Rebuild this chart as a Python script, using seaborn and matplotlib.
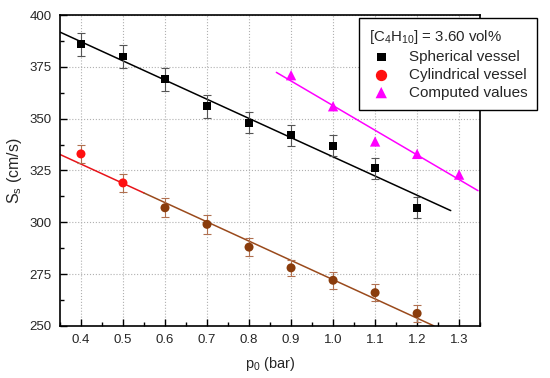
import numpy as np
import pandas as pd
import matplotlib
matplotlib.use("Agg")
import matplotlib.pyplot as plt
import seaborn as sns
from matplotlib.ticker import MultipleLocator

p0 = [0.4, 0.5, 0.6, 0.7, 0.8, 0.9, 1.0, 1.1, 1.2]
spherical = [386, 380, 369, 356, 348, 342, 337, 326, 307]
spherical_err = [5.5, 5.5, 5.5, 5.5, 5.0, 5.0, 5.0, 5.0, 5.0]
cylindrical = [333, 319, 307, 299, 288, 278, 272, 266, 256]
cylindrical_err = [4.5, 4.5, 4.5, 4.5, 4.5, 4.0, 4.0, 4.0, 4.0]
p0_comp = [0.9, 1.0, 1.1, 1.2, 1.3]
computed = [371, 356, 339, 333, 323]

sns.set_style("white")
plt.rcParams['font.family'] = ['Liberation Sans', 'DejaVu Sans']
plt.rcParams['mathtext.fontset'] = 'custom'
plt.rcParams['mathtext.rm'] = 'Liberation Sans'
plt.rcParams['mathtext.it'] = 'Liberation Sans'

df_s = pd.DataFrame({'p0': p0, 'S': spherical, 'err': spherical_err})
df_c = pd.DataFrame({'p0': p0, 'S': cylindrical, 'err': cylindrical_err})
df_m = pd.DataFrame({'p0': p0_comp, 'S': computed})

fig = plt.figure(figsize=(5.5, 3.78), dpi=100)
ax = fig.add_axes([0.109, 0.138, 0.764, 0.822])

# linear fits
def fit_line(df, x0, x1):
    k, b = np.polyfit(df.p0, df.S, 1)
    xs = np.linspace(x0, x1, 50)
    return xs, k * xs + b

xs, ys = fit_line(df_s, 0.35, 1.28)
ax.plot(xs, ys, color='black', lw=1.1, zorder=2)
xs, ys = fit_line(df_c, 0.35, 1.24)
red_part = xs <= 0.55
ax.plot(xs[red_part], ys[red_part], color='#e8141a', lw=1.1, zorder=2)
ax.plot(xs[xs >= 0.54], ys[xs >= 0.54], color='#9a4a1c', lw=1.1, zorder=2)
xs, ys = fit_line(df_m, 0.865, 1.345)
ax.plot(xs, ys, color='#ff00ff', lw=1.1, zorder=2)

# error bars
ax.errorbar(df_s.p0, df_s.S, yerr=df_s.err, fmt='none', ecolor='#555555',
            elinewidth=0.8, capsize=3, capthick=0.8, zorder=3)
ax.errorbar(df_c.p0, df_c.S, yerr=df_c.err, fmt='none', ecolor='#b07050',
            elinewidth=0.8, capsize=3, capthick=0.8, zorder=3)

# markers
sns.scatterplot(data=df_s, x='p0', y='S', marker='s', color='black', s=32,
                edgecolor='none', ax=ax, zorder=4, label='Spherical vessel')
cyl_colors = ['#ff1010' if x < 0.6 else '#8a3c0c' for x in df_c.p0]
ax.scatter(df_c.p0, df_c.S, marker='o', c=cyl_colors, s=42, edgecolors='none', zorder=4)
ax.scatter([], [], marker='o', color='#ff1010', s=42, label='Cylindrical vessel')
sns.scatterplot(data=df_m, x='p0', y='S', marker='^', color='#ff00ff', s=55,
                edgecolor='none', ax=ax, zorder=4, label='Computed values')

ax.set_xlim(0.35, 1.35)
ax.set_ylim(250, 400)
ax.xaxis.set_major_locator(MultipleLocator(0.1))
ax.xaxis.set_minor_locator(MultipleLocator(0.05))
ax.yaxis.set_major_locator(MultipleLocator(25))
ax.yaxis.set_minor_locator(MultipleLocator(12.5))
ax.set_xticks(np.arange(0.4, 1.31, 0.1))
ax.set_xticklabels([f"{v:.1f}" for v in np.arange(0.4, 1.31, 0.1)])
ax.tick_params(axis='both', which='both', bottom=True, left=True,
               top=False, right=False, direction='in', color='black')
ax.tick_params(axis='both', which='major', length=5, width=1,
               labelsize=9.5, pad=6)
ax.tick_params(axis='both', which='minor', length=3, width=1)
ax.grid(True, which='major', color='#b0b0b0', linestyle=':', linewidth=0.8)
ax.grid(False, which='minor')
for sp in ax.spines.values():
    sp.set_linewidth(1.2)
    sp.set_color('black')

ax.set_xlabel('p$_0$ (bar)', fontsize=10.5, labelpad=6)
ax.set_ylabel('S$_s$ (cm/s)', fontsize=11.5, labelpad=4)

leg = ax.legend(title='[C$_4$H$_{10}$] = 3.60 vol%', loc='upper left',
                bbox_to_anchor=(0.639, 0.972), bbox_transform=fig.transFigure,
                fontsize=11, title_fontsize=10.8, frameon=True, fancybox=False,
                handletextpad=1.0, borderpad=0.65, labelspacing=0.25,
                handlelength=1.6, markerscale=1.1)
leg._legend_box.align = 'left'
leg.get_frame().set_edgecolor('black')
leg.get_frame().set_linewidth(1.0)
leg.get_frame().set_alpha(1)
leg.set_zorder(10)

fig.savefig('out.png', dpi=100)
